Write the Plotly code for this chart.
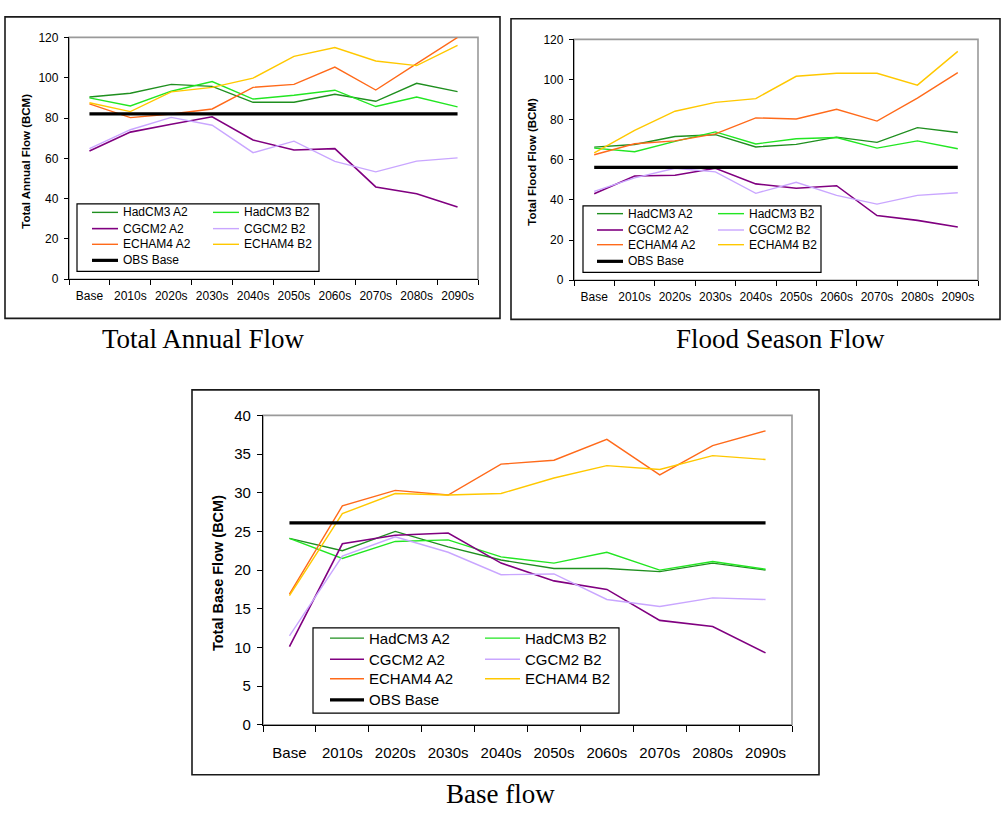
import plotly.graph_objects as go

W, H = 1002, 817

categories = ["Base", "2010s", "2020s", "2030s", "2040s", "2050s", "2060s", "2070s", "2080s", "2090s"]
series_names = ["HadCM3 A2", "HadCM3 B2", "CGCM2 A2", "CGCM2 B2", "ECHAM4 A2", "ECHAM4 B2", "OBS Base"]

# Total Annual Flow (BCM)
annual_hadcm3_a2 = [90.4, 92.3, 96.7, 95.7, 87.8, 87.8, 91.8, 88.3, 97.2, 93.1]
annual_hadcm3_b2 = [90.0, 86.0, 93.3, 98.1, 89.4, 91.3, 93.8, 85.7, 90.4, 85.5]
annual_cgcm2_a2 = [63.6, 73.0, 76.9, 80.6, 69.1, 64.1, 64.8, 45.8, 42.4, 35.8]
annual_cgcm2_b2 = [64.8, 74.2, 80.3, 76.4, 62.8, 68.5, 58.5, 53.3, 58.6, 60.2]
annual_echam4_a2 = [87.0, 80.2, 82.0, 84.5, 95.2, 96.7, 105.3, 93.9, 107.0, 120.0]
annual_echam4_b2 = [87.6, 83.2, 93.0, 95.2, 99.8, 110.6, 115.0, 108.3, 106.0, 116.0]
annual_obs = [82.1] * 10

# Flood Season Flow (BCM)
flood_hadcm3_a2 = [66.3, 67.6, 71.6, 72.5, 66.4, 67.7, 71.3, 68.7, 76.0, 73.6]
flood_hadcm3_b2 = [65.8, 64.0, 69.2, 73.9, 67.9, 70.5, 71.1, 65.8, 69.4, 65.5]
flood_cgcm2_a2 = [43.1, 51.9, 52.3, 55.8, 48.0, 45.8, 47.1, 32.2, 29.8, 26.5]
flood_cgcm2_b2 = [44.3, 51.0, 55.8, 54.0, 43.3, 48.8, 42.3, 37.9, 42.3, 43.6]
flood_echam4_a2 = [62.5, 68.0, 69.4, 72.9, 80.9, 80.3, 85.2, 79.3, 90.7, 103.4]
flood_echam4_b2 = [63.5, 74.6, 84.2, 88.6, 90.5, 101.6, 103.1, 103.1, 97.2, 114.0]
flood_obs = [56.2] * 10

# Total Base Flow (BCM)
base_hadcm3_a2 = [24.1, 22.5, 25.0, 23.0, 21.3, 20.2, 20.2, 19.8, 20.9, 20.0]
base_hadcm3_b2 = [24.1, 21.5, 23.7, 23.9, 21.7, 20.9, 22.3, 20.0, 21.1, 20.1]
base_cgcm2_a2 = [10.1, 23.4, 24.5, 24.8, 20.9, 18.6, 17.5, 13.5, 12.7, 9.3]
base_cgcm2_b2 = [11.5, 21.8, 24.3, 22.3, 19.4, 19.5, 16.2, 15.3, 16.4, 16.2]
base_echam4_a2 = [16.9, 28.3, 30.3, 29.7, 33.7, 34.2, 36.9, 32.3, 36.1, 38.0]
base_echam4_b2 = [16.7, 27.3, 29.9, 29.7, 29.9, 31.9, 33.5, 33.0, 34.8, 34.3]
base_obs = [26.1] * 10

colors = ["#1f8f1f", "#22e622", "#800080", "#c9a6ff", "#ff6a1a", "#ffc800", "#000000"]
widths = [1.4, 1.4, 1.6, 1.4, 1.4, 1.4, 3.2]

FONT = "Liberation Sans, Arial, sans-serif"
SERIF = "Liberation Serif, Times New Roman, serif"


def X(px):
    return px / W


def Y(py):
    return 1 - py / H


panels = [
    dict(
        data=[annual_hadcm3_a2, annual_hadcm3_b2, annual_cgcm2_a2, annual_cgcm2_b2,
              annual_echam4_a2, annual_echam4_b2, annual_obs],
        plot=(69, 478, 29, 276), outer=(5, 500, 8, 316),
        yrange=[0, 120], dtick=20, fs=12, ticklen=4, xticklen=5, xstand=5,
        ytitle="Total Annual Flow (BCM)", ytitle_pos=(26, 156), ytitle_fs=11.5,
        legend_box=(77, 319, 199, 268), legend_rows=[207.7, 224.3, 240.3, 256.7],
        legend_cols=[(92, 118, 121), (213, 239, 242)], legend_fs=12,
        caption="Total Annual Flow", caption_pos=(203, 337),
    ),
    dict(
        data=[flood_hadcm3_a2, flood_hadcm3_b2, flood_cgcm2_a2, flood_cgcm2_b2,
              flood_echam4_a2, flood_echam4_b2, flood_obs],
        plot=(574, 978, 31, 277), outer=(511, 1000, 10, 317),
        yrange=[0, 120], dtick=20, fs=12, ticklen=4, xticklen=5, xstand=5,
        ytitle="Total Flood Flow (BCM)", ytitle_pos=(532, 156), ytitle_fs=11.5,
        legend_box=(583, 821, 201, 269), legend_rows=[209, 225.7, 240.7, 257.7],
        legend_cols=[(597, 623, 626), (718, 744, 747)], legend_fs=12,
        caption="Flood Season Flow", caption_pos=(780, 337),
    ),
    dict(
        data=[base_hadcm3_a2, base_hadcm3_b2, base_cgcm2_a2, base_cgcm2_b2,
              base_echam4_a2, base_echam4_b2, base_obs],
        plot=(263, 792, 415, 731), outer=(192, 819, 389, 782),
        yrange=[0, 40], dtick=5, fs=15, ticklen=5, xticklen=6, xstand=14,
        ytitle="Total Base Flow (BCM)", ytitle_pos=(218, 576), ytitle_fs=14.5,
        legend_box=(313, 619, 632, 719), legend_rows=[642.5, 664, 684, 705.5],
        legend_cols=[(330, 364, 367), (485, 520, 523)], legend_fs=15,
        caption="Base flow", caption_pos=(500, 802),
    ),
]

fig = go.Figure()
shapes = []
annotations = []
layout_axes = {}

for i, p in enumerate(panels):
    n = "" if i == 0 else str(i + 1)
    xa, ya = "x" + n, "y" + n
    x0, x1, y0, y1 = p["plot"]

    for name, vals, c, w in zip(series_names, p["data"], colors, widths):
        fig.add_trace(go.Scatter(
            x=categories, y=vals, mode="lines", name=name,
            line=dict(color=c, width=w), xaxis=xa, yaxis=ya,
            showlegend=False, hoverinfo="skip",
        ))

    layout_axes["xaxis" + n] = dict(
        domain=[X(x0), X(x1)], anchor=ya, type="category",
        categoryorder="array", categoryarray=categories,
        range=[-0.5, 9.5], showgrid=False, zeroline=False,
        showline=True, linecolor="#000000", linewidth=1.3,
        ticks="outside", tickson="boundaries", ticklen=p["xticklen"],
        tickcolor="#000000", tickwidth=1.2, tickangle=0,
        tickfont=dict(family=FONT, size=p["fs"], color="#000000"),
        ticklabelstandoff=p["xstand"], fixedrange=True,
    )
    layout_axes["yaxis" + n] = dict(
        domain=[Y(y1), Y(y0)], anchor=xa, range=p["yrange"], dtick=p["dtick"],
        showgrid=False, zeroline=False, showline=True, linecolor="#000000",
        linewidth=1.3, ticks="outside", ticklen=p["ticklen"], tickcolor="#000000",
        tickwidth=1.2, tickfont=dict(family=FONT, size=p["fs"], color="#000000"),
        ticklabelstandoff=3, fixedrange=True,
    )

    # plot-area border (grey top/right)
    shapes.append(dict(type="rect", xref="paper", yref="paper",
                       x0=X(x0), x1=X(x1), y0=Y(y1), y1=Y(y0),
                       line=dict(color="#9a9a9a", width=1.6), layer="below"))
    # outer chart frame
    ox0, ox1, oy0, oy1 = p["outer"]
    shapes.append(dict(type="rect", xref="paper", yref="paper",
                       x0=X(ox0), x1=X(ox1), y0=Y(oy1), y1=Y(oy0),
                       line=dict(color="#1a1a1a", width=1.6), layer="below"))

    # y-axis title
    tx, ty = p["ytitle_pos"]
    annotations.append(dict(text="<b>" + p["ytitle"] + "</b>", xref="paper", yref="paper",
                            x=X(tx), y=Y(ty), showarrow=False, textangle=-90,
                            xanchor="center", yanchor="middle",
                            font=dict(family=FONT, size=p["ytitle_fs"], color="#000000")))

    # legend box
    lx0, lx1, ly0, ly1 = p["legend_box"]
    shapes.append(dict(type="rect", xref="paper", yref="paper",
                       x0=X(lx0), x1=X(lx1), y0=Y(ly1), y1=Y(ly0),
                       line=dict(color="#000000", width=1.2),
                       fillcolor="#ffffff", layer="above"))
    for k, name in enumerate(series_names):
        row = k // 2
        col = k % 2
        lsx0, lsx1, ltx = p["legend_cols"][col]
        ry = p["legend_rows"][row]
        shapes.append(dict(type="line", xref="paper", yref="paper",
                           x0=X(lsx0), x1=X(lsx1), y0=Y(ry), y1=Y(ry),
                           line=dict(color=colors[k], width=widths[k]), layer="above"))
        annotations.append(dict(text=name, xref="paper", yref="paper",
                                x=X(ltx), y=Y(ry), showarrow=False,
                                xanchor="left", yanchor="middle",
                                font=dict(family=FONT, size=p["legend_fs"], color="#000000")))

    cx, cy = p["caption_pos"]
    annotations.append(dict(text=p["caption"], xref="paper", yref="paper",
                            x=X(cx), y=Y(cy), showarrow=False,
                            xanchor="center", yanchor="middle",
                            font=dict(family=SERIF, size=27, color="#000000")))

fig.update_layout(
    width=W, height=H, margin=dict(l=0, r=0, t=0, b=0),
    paper_bgcolor="#ffffff", plot_bgcolor="rgba(0,0,0,0)",
    showlegend=False, shapes=shapes, annotations=annotations,
    **layout_axes,
)

fig.write_html("out.html", config={"displayModeBar": False})
